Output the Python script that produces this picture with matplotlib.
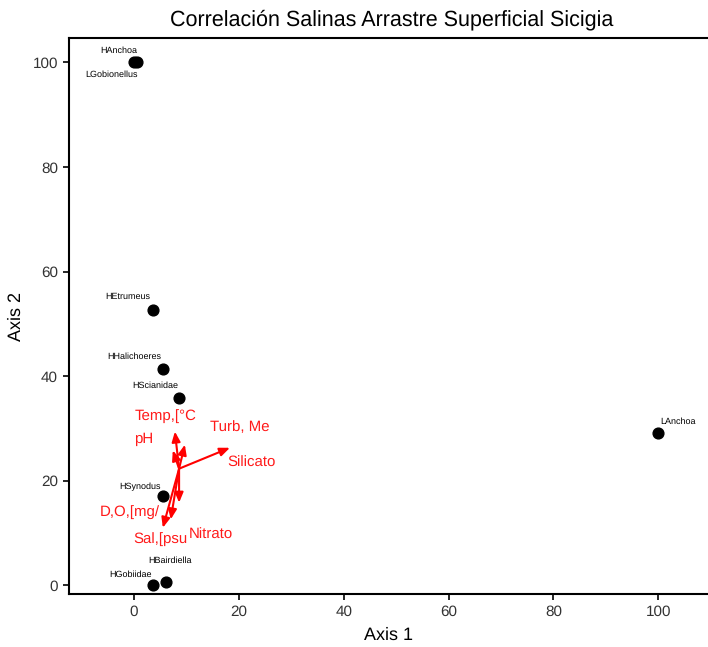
import matplotlib

matplotlib.use("Agg")
import matplotlib.pyplot as plt

plt.rcParams["font.family"] = ["Liberation Sans", "DejaVu Sans"]
plt.rcParams["text.hinting"] = "no_hinting"

# site / taxon scores
species = ["HAnchoa", "LGobionellus", "HEtrumeus", "HHalichoeres", "HScianidae",
           "HSynodus", "HBairdiella", "HGobiidae", "LAnchoa"]
axis1 = [0.6, 0.0, 3.6, 5.5, 8.6, 5.5, 6.05, 3.6, 100.0]
axis2 = [100.0, 100.0, 52.7, 41.4, 35.9, 17.0, 0.7, 0.0, 29.2]
species_label_dx = [-3.6, -4.2, -4.7, -5.5, -4.6, -4.4, 0.8, -4.2, 3.8]
species_label_dy = [2.3, -2.3, 2.5, 2.3, 2.3, 1.9, 4.1, 2.1, 2.1]

# environmental vectors
env_names = ["Temp,[°C", "pH", "Turb, Me", "Silicato", "D,O,[mg/", "Sal,[psu", "Nitrato"]
env_origin = (8.6, 22.3)
env_x = [7.8, 7.4, 9.7, 18.3, 7.0, 5.5, 8.6]
env_y = [29.4, 25.8, 26.9, 26.3, 12.6, 11.0, 15.8]
env_label_x = [6.1, 1.9, 20.2, 22.5, -0.8, 5.0, 14.7]
env_label_y = [32.4, 27.9, 30.2, 23.3, 14.1, 8.8, 9.7]

fig = plt.figure(figsize=(7.08, 6.47), dpi=100)
ax = fig.add_axes([69 / 708, 1 - 594.3 / 647, 1 - 69 / 708, (594.3 - 38.3) / 647])

ax.scatter(axis1, axis2, s=60, color="black", zorder=3)
for name, x, y, dx, dy in zip(species, axis1, axis2, species_label_dx, species_label_dy):
    ax.text(x + dx, y + dy, name, fontsize=6.5, ha="center", va="center", color="black")

for name, x, y, lx, ly in zip(env_names, env_x, env_y, env_label_x, env_label_y):
    ax.annotate("", xy=(x, y), xytext=env_origin,
                arrowprops=dict(arrowstyle="-|>,head_length=0.6,head_width=0.25",
                                color="red", lw=1.5, shrinkA=0, shrinkB=0))
    ax.text(lx, ly, name, fontsize=10.8, ha="center", va="center", color="#ff1a1a")

ax.set_xlim(-12.4, 109.5)
ax.set_ylim(-1.72, 104.6)
ax.set_xticks([0, 20, 40, 60, 80, 100])
ax.set_yticks([0, 20, 40, 60, 80, 100])
ax.spines["right"].set_visible(False)
for side in ["left", "bottom", "top"]:
    ax.spines[side].set_linewidth(1.5)
ax.tick_params(direction="out", length=4, width=1.2, labelsize=11, colors="black",
               labelcolor="#333333", pad=4)
ax.set_xlabel("Axis 1", fontsize=13, labelpad=5)
ax.set_ylabel("Axis 2", fontsize=13, labelpad=6)
ax.set_title("Correlación Salinas Arrastre Superficial Sicigia", fontsize=15.5, x=0.505, pad=9)

fig.savefig("out.png", dpi=100)
